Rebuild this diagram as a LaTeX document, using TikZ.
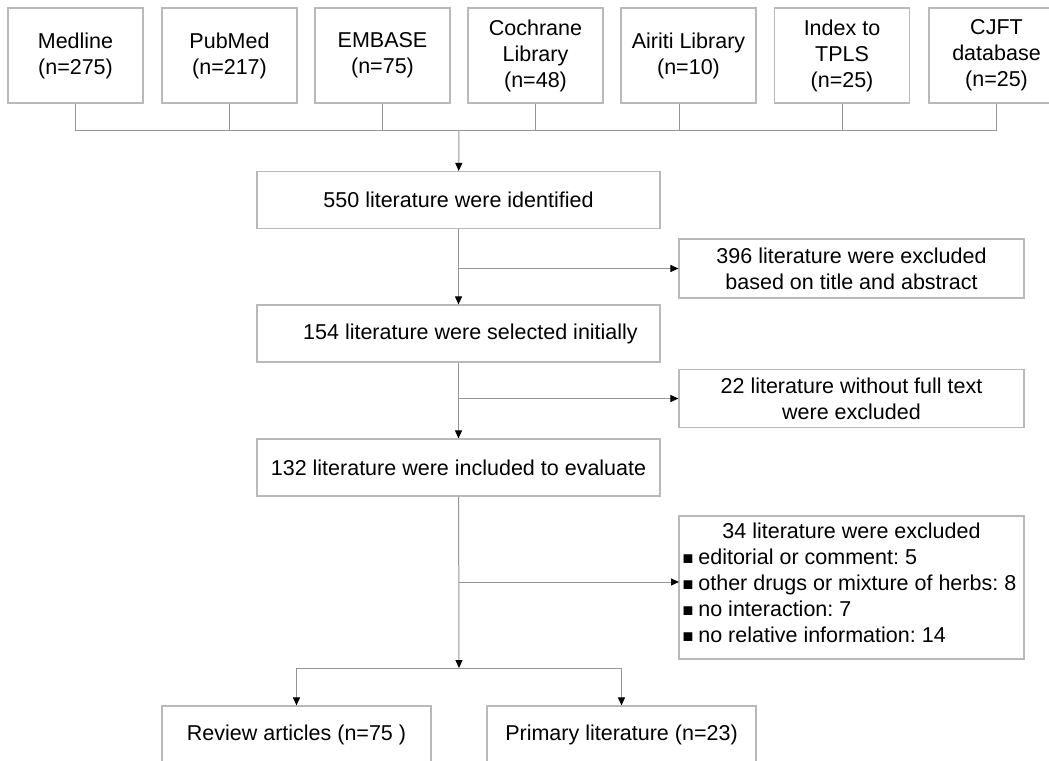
\documentclass[tikz,border=0pt]{standalone}
\usepackage{fontspec}
\setmainfont{Liberation Sans}
\usetikzlibrary{arrows.meta}
\definecolor{boxgray}{RGB}{185,185,185}
\definecolor{linegray}{RGB}{150,150,150}
\newcommand{\sqitem}{{\fontsize{9}{9}\selectfont■}\hspace{2.5pt}}
\frenchspacing

\begin{document}
\begin{tikzpicture}[x=0.5pt, y=-0.5pt, font=\fontsize{10.75}{13}\selectfont,
    db/.style={draw=boxgray, line width=0.6pt, minimum width=67.5pt, minimum height=47.5pt, align=center, inner sep=1pt},
    stage/.style={draw=boxgray, line width=0.6pt, minimum width=201.5pt, minimum height=28.5pt, align=center},
    excl/.style={draw=boxgray, line width=0.6pt, minimum width=172.5pt, minimum height=29pt, align=center},
    result/.style={draw=boxgray, line width=0.6pt, minimum width=134.5pt, minimum height=28.5pt, align=center},
    link/.style={draw=linegray, line width=0.5pt},
    arr/.style={link, -{Triangle[length=4pt, width=3.5pt, color=black]}}]
    \useasboundingbox (0,0) rectangle (1049,760);
    \clip (0,0) rectangle (1049,760);

    % databases
    \node[db] (med) at (75.5,55.5) {Medline\\(n=275)};
    \node[db] (pub) at (229.5,55.5) {PubMed\\(n=217)};
    \node[db] (emb) at (382.5,55.5) {EMBASE\\(n=75)};
    \node[db] (coch) at (535.5,55.5) {Cochrane\\Library\\(n=48)};
    \node[db] (air) at (688.5,55.5) {Airiti Library\\(n=10)};
    \node[db] (tpls) at (842,55.5) {Index to\\TPLS\\(n=25)};
    \node[db] (cjft) at (996.5,55.5) {CJFT\\database\\(n=25)};
    \coordinate (bus) at (459,130);

    \draw[link] (med.south) -- (med.south |- bus) -- (cjft.south |- bus) -- (cjft.south);
    \draw[link] (pub.south) -- (pub.south |- bus);
    \draw[link] (emb.south) -- (emb.south |- bus);
    \draw[link] (coch.south) -- (coch.south |- bus);
    \draw[link] ([xshift=-4.5pt]air.south) -- ([xshift=-4.5pt]air.south |- bus);
    \draw[link] (tpls.south) -- (tpls.south |- bus);

    % screening
    \node[stage] (ident) at (458.5,200) {550 literature were identified};
    \node[stage] (sel) at (458.5,333.5) {\hspace*{12pt}154 literature were selected initially};
    \node[stage] (incl) at (458.5,467.5) {132 literature were included to evaluate};

    \node[excl, minimum height=29.5pt] (ex1) at (851.5,268.5) {396 literature were excluded\\based on title and abstract};
    \node[excl] (ex2) at (851.5,398.5) {22 literature without full text\\were excluded};
    \node[excl, minimum height=71.5pt, align=left, inner xsep=1.5pt, text depth=5pt] (ex3) at (851.5,587.5)
        {\makebox[169pt]{34 literature were excluded}\\
         \sqitem editorial or comment: 5\\
         \sqitem other drugs or mixture of herbs: 8\\
         \sqitem no interaction: 7\\
         \sqitem no relative information: 14};
    \coordinate (ex3in) at (679,582);

    \draw[arr] (bus) -- (ident);
    \draw[arr] (ident) -- (sel);
    \draw[arr] (sel) -- (incl);
    \draw[arr] (ident.south |- ex1.west) -- (ex1.west);
    \draw[arr] (sel.south |- ex2.west) -- (ex2.west);
    \draw[arr] (incl.south |- ex3in) -- (ex3in);

    % results
    \coordinate (split) at (459,668);
    \node[result] (rev) at (296.5,734.5) {Review articles (n=75 )};
    \node[result] (prim) at (621.5,734.5) {Primary literature (n=23)};

    \draw[arr] (incl) -- (split);
    \draw[link] (rev.north |- split) -- (prim.north |- split);
    \draw[arr] (rev.north |- split) -- (rev);
    \draw[arr] (prim.north |- split) -- (prim);
\end{tikzpicture}
\end{document}
